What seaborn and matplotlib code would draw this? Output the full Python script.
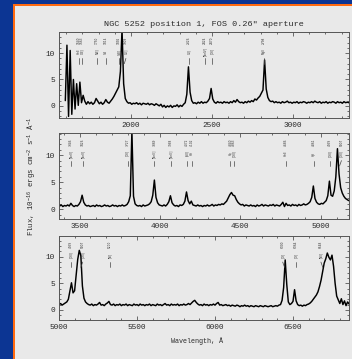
import numpy as np
import pandas as pd
import matplotlib
matplotlib.use("Agg")
import matplotlib.pyplot as plt
from matplotlib.patches import Rectangle
from matplotlib.ticker import MultipleLocator
import seaborn as sns

# ---------------- spectrum data (flux in 1e-16 erg/cm2/s/A) ----------------
# blue segment: 1595 .. 3345 A, 10 A bins
wave_uv_start, wave_uv_step = 1595, 10
flux_uv = [
    1.0, 11.5, -2.0, 10.5, -1.6, 5.0, -0.6, 4.2, 0.1, 4.5,
    0.6, 2.0, 0.9, 0.3, 0.8, 0.4, 0.7, 0.3, 0.6, 1.4,
    0.9, 0.4, 0.7, 0.3, 0.6, 1.2, 0.7, 0.5, 0.9, 1.3,
    1.8, 2.4, 3.0, 3.6, 6.5, 14.5, 4.2, 1.4, 0.8, 0.5,
    0.6, 0.3, 0.5, 0.4, 0.6, 0.3, 0.5, 0.2, 0.5, 0.4,
    0.3, 0.5, 0.2, 0.4, 0.3, 0.1, 0.4, 0.2, 0.0, 0.3,
    -0.2, 0.1, -0.3, 0.0, -0.2, 0.1, -0.3, 0.0, -0.1, 0.2,
    -0.2, 0.1, -0.1, 0.3, 0.6, 2.2, 7.4, 2.6, 1.0, 0.5,
    0.6, 0.4, 0.7, 0.5, 0.8, 0.5, 0.7, 0.6, 0.9, 1.4,
    3.3, 1.3, 0.7, 0.5, 0.8, 0.6, 0.7, 0.5, 0.8, 0.6,
    0.7, 0.5, 0.8, 0.6, 1.0, 0.7, 1.2, 0.8, 0.6, 0.7,
    0.5, 0.8, 0.6, 0.9, 0.7, 1.0, 0.8, 1.3, 1.1, 1.5,
    1.8, 2.4, 3.0, 8.7, 3.2, 1.6, 1.0, 0.8, 0.9, 0.6,
    0.8, 0.6, 0.7, 0.5, 0.8, 0.6, 0.7, 0.9, 0.6, 0.7,
    0.5, 0.7, 0.6, 0.8, 0.5, 0.7, 0.6, 0.8, 0.7, 0.5,
    0.7, 0.6, 0.8, 0.6, 0.9, 0.7, 0.6, 0.8, 0.5, 0.7,
    0.6, 0.8, 0.5, 0.7, 0.6, 0.8, 0.7, 0.5, 0.8, 0.6,
    0.7, 0.5, 0.8, 0.6, 0.7, 0.6,
]

# middle segment: 3375 .. 5175 A
wave_mid_start, wave_mid_step = 3375, 10
flux_mid = [
    0.6, 0.8, 0.5, 0.7, 0.6, 0.8, 0.6, 1.1, 0.7, 0.5,
    0.7, 0.6, 0.9, 1.4, 2.6, 1.3, 0.8, 0.6, 0.7, 0.5,
    0.6, 0.7, 0.5, 0.8, 0.6, 0.7, 0.5, 0.6, 0.8, 0.6,
    0.7, 0.5, 0.6, 0.8, 0.6, 0.7, 0.5, 0.7, 0.6, 0.8,
    0.6, 0.7, 0.9, 1.4, 2.5, 14.5, 2.4, 1.0, 0.7, 0.6,
    0.7, 0.5, 0.8, 0.6, 0.7, 0.8, 1.0, 1.4, 2.6, 5.4,
    2.2, 1.2, 0.8, 0.7, 0.6, 0.8, 0.6, 0.9, 1.4, 2.5,
    1.2, 0.8, 0.6, 0.7, 0.5, 0.8, 0.7, 0.9, 1.5, 3.2,
    1.6, 1.0, 1.5, 0.8, 0.7, 0.6, 0.8, 0.6, 0.7, 0.5,
    0.7, 0.6, 0.8, 0.6, 0.7, 0.9, 0.6, 0.8, 0.7, 0.9,
    0.8, 1.0, 0.9, 1.2, 1.5, 2.1, 2.7, 3.1, 2.6, 2.5,
    1.8, 1.3, 1.0, 0.8, 0.9, 0.6, 0.8, 0.7, 0.6, 0.8,
    0.6, 0.7, 0.5, 0.8, 0.6, 0.7, 0.9, 0.6, 0.8, 0.7,
    0.6, 0.8, 0.7, 0.9, 0.6, 0.8, 0.7, 0.6, 0.9, 1.3,
    0.5, 1.1, 0.7, 0.8, 0.6, 0.9, 0.7, 0.8, 0.6, 0.9,
    0.7, 0.8, 1.0, 0.8, 0.9, 1.1, 1.4, 2.2, 4.3, 2.0,
    1.3, 1.0, 0.9, 1.1, 1.0, 1.3, 1.6, 2.5, 5.2, 2.6,
    2.4, 3.4, 6.0, 11.2, 6.5, 4.0, 3.0, 2.4, 2.0, 1.8,
    1.6,
]

# red segment: 5000 .. 6860 A
wave_red_start, wave_red_step = 5000, 10
flux_red = [
    1.0, 1.2, 0.9, 1.1, 1.3, 1.5, 2.0, 3.5, 5.1, 3.2,
    3.6, 6.5, 9.5, 11.2, 10.2, 4.5, 2.2, 1.5, 1.2, 1.0,
    0.9, 1.1, 0.8, 1.0, 0.9, 1.1, 1.4, 0.9, 1.0, 0.8,
    1.1, 1.3, 1.6, 1.0, 0.9, 1.1, 0.8, 1.0, 0.9, 1.1,
    0.8, 1.0, 0.9, 1.1, 0.8, 1.0, 0.9, 0.8, 1.1, 0.9,
    1.0, 0.8, 1.1, 0.9, 1.0, 0.8, 1.0, 0.9, 1.1, 0.8,
    1.0, 0.9, 0.8, 1.1, 0.9, 1.0, 0.8, 1.0, 1.2, 0.9,
    1.0, 0.8, 1.1, 0.9, 1.0, 0.9, 1.1, 0.8, 1.0, 0.9,
    1.1, 0.9, 1.0, 1.2, 1.0, 1.3, 1.6, 1.8, 1.4, 1.1,
    0.9, 1.0, 0.8, 1.1, 0.9, 1.0, 0.8, 1.0, 0.9, 1.1,
    0.9, 1.2, 1.4, 0.9, 1.0, 0.8, 0.9, 1.0, 0.8, 0.9,
    0.7, 0.9, 0.8, 0.7, 0.9, 0.8, 0.6, 0.8, 0.7, 0.9,
    0.7, 0.8, 0.6, 0.8, 0.7, 0.6, 0.8, 0.7, 0.6, 0.8,
    0.7, 0.6, 0.8, 0.7, 0.6, 0.7, 0.8, 0.6, 0.7, 0.8,
    0.7, 0.9, 1.0, 1.8, 4.2, 9.4, 4.8, 1.5, 1.0, 1.2,
    1.6, 3.8, 1.7, 1.0, 0.8, 0.9, 0.7, 0.9, 0.8, 1.0,
    1.1, 1.3, 1.6, 2.0, 2.4, 2.8, 3.4, 4.4, 5.6, 7.2,
    8.8, 9.6, 10.7, 9.9, 9.4, 10.3, 8.2, 5.0, 2.6, 1.9,
    1.2, 2.1, 1.0, 1.7, 0.8, 1.5, 1.1,
]

# ---------------- line identifications ----------------
lines_uv_pos = [1679, 1698, 1790, 1846, 1926, 1969, 2358, 2457, 2500, 2821]
lines_uv_ion = ["HeII", "OIII]", "NIII]", "SiII", "SiIII]", "CIII]",
                "CII]", "[NeIV]", "[OII]", "MgII"]
lines_uv_rest = ["1640", "1663", "1750", "1814", "1892", "1909",
                 "2326", "2424", "2470", "2798"]
lines_uv_slant = [0, 0, 0, 0, 0, -10, 0, 0, 0, 0]

lines_mid_pos = [3444, 3521, 3798, 3965, 4067, 4167, 4198, 4438, 4459,
                 4786, 4960, 5057, 5130]
lines_mid_ion = ["[NeV]", "[NeV]", "[OII]", "[NeIII]", "[NeIII]",
                 "[SII]", "Hδ", "Hγ", "[OIII]", "HeII", "Hβ",
                 "[OIII]", "[OIII]"]
lines_mid_rest = ["3346", "3426", "3727", "3869", "3968", "4072", "4102",
                  "4340", "4363", "4686", "4861", "4959", "5007"]
lines_mid_slant = [0, 0, 0, 0, 0, 0, 0, 0, 0, 0, 0, 0, -12]

lines_red_pos = [5077, 5152, 5327, 6434, 6517, 6679]
lines_red_ion = ["[OIII]", "[OIII]", "[NI]", "[OI]", "[OI]", "[NII]"]
lines_red_rest = ["4959", "5007", "5200", "6300", "6364", "6548"]
lines_red_slant = [0, -12, 0, 12, 0, 12]

title = "NGC 5252 position 1, FOS 0.26\" aperture"
xlabel = "Wavelength, Å"
ylabel = r"Flux, 10$^{-16}$ ergs cm$^{-2}$ s$^{-1}$ Å$^{-1}$"

# ---------------- styling ----------------
sns.set_theme(style="ticks")
mono = ["Liberation Mono", "DejaVu Sans Mono"]
plt.rcParams["font.family"] = mono
plt.rcParams["mathtext.fontset"] = "custom"
plt.rcParams["mathtext.rm"] = "Liberation Mono"

W, H = 352, 359
fig = plt.figure(figsize=(W / 100, H / 100), dpi=100)
fig.patch.set_facecolor("#0c3593")
fig.add_artist(Rectangle((13 / W, 0), 1, 1 - 4 / H, transform=fig.transFigure,
                         facecolor="#ff6a10", edgecolor="none", zorder=0))
fig.add_artist(Rectangle((15 / W, 0), 1, 1 - 6 / H, transform=fig.transFigure,
                         facecolor="#e9e9e9", edgecolor="none", zorder=0))

ink = "#2a2a2a"
panels = [
    dict(top=32, bottom=118, xlim=(1556, 3346), ylim=(-2.3, 14.0),
         start=wave_uv_start, step=wave_uv_step, flux=flux_uv,
         pos=lines_uv_pos, ion=lines_uv_ion, rest=lines_uv_rest, slant=lines_uv_slant),
    dict(top=133, bottom=219, xlim=(3371, 5177), ylim=(-1.8, 14.1),
         start=wave_mid_start, step=wave_mid_step, flux=flux_mid,
         pos=lines_mid_pos, ion=lines_mid_ion, rest=lines_mid_rest, slant=lines_mid_slant),
    dict(top=236, bottom=320, xlim=(5000, 6859), ylim=(-1.9, 13.9),
         start=wave_red_start, step=wave_red_step, flux=flux_red,
         pos=lines_red_pos, ion=lines_red_ion, rest=lines_red_rest, slant=lines_red_slant),
]

left, right = 59, 349
for p in panels:
    ax = fig.add_axes([left / W, 1 - p["bottom"] / H, (right - left) / W,
                       (p["bottom"] - p["top"]) / H])
    ax.set_facecolor("#e9e9e9")
    wave = p["start"] + p["step"] * np.arange(len(p["flux"]))
    df = pd.DataFrame({"wavelength": wave, "flux": p["flux"]})
    sns.lineplot(data=df, x="wavelength", y="flux", ax=ax, color="#000000",
                 lw=1.05, estimator=None, sort=False)
    ax.set_xlim(*p["xlim"])
    ax.set_ylim(*p["ylim"])
    ax.set_xlabel("")
    ax.set_ylabel("")
    ax.xaxis.set_major_locator(MultipleLocator(500))
    ax.xaxis.set_minor_locator(MultipleLocator(100))
    ax.yaxis.set_major_locator(MultipleLocator(5))
    ax.yaxis.set_minor_locator(MultipleLocator(1))
    ax.tick_params(which="both", direction="in", top=True, right=True,
                   colors="#555555", labelcolor=ink, labelsize=5.6, width=0.6, pad=3)
    ax.tick_params(which="major", length=3.2)
    ax.tick_params(which="minor", length=1.6)
    for s in ax.spines.values():
        s.set_color("#555555")
        s.set_linewidth(0.7)
    # line identifications: rest wavelength above, ion below, then a pointer tick
    for x0, ion, rest, sl in zip(p["pos"], p["ion"], p["rest"], p["slant"]):
        ax.text(x0, 12.4, rest, rotation=90, ha="center", va="center",
                fontsize=2.1, color="#333333", family=["DejaVu Sans"])
        ax.text(x0, 10.3, ion, rotation=90, ha="center", va="center",
                fontsize=2.1, color="#333333", family=["DejaVu Sans"])
        ax.plot([x0, x0 + sl], [9.0, 8.0], color="#444444", lw=0.5)

fig.text(204 / W, 1 - 24 / H, title, ha="center", va="center",
         fontsize=6.1, color=ink)
fig.text(197 / W, 1 - 341 / H, xlabel, ha="center", va="center",
         fontsize=4.9, color=ink)
fig.text(32 / W, 1 - 176 / H, ylabel, ha="center", va="center",
         rotation=90, fontsize=5.3, color=ink)

fig.savefig("out.png", dpi=100, facecolor=fig.get_facecolor())
